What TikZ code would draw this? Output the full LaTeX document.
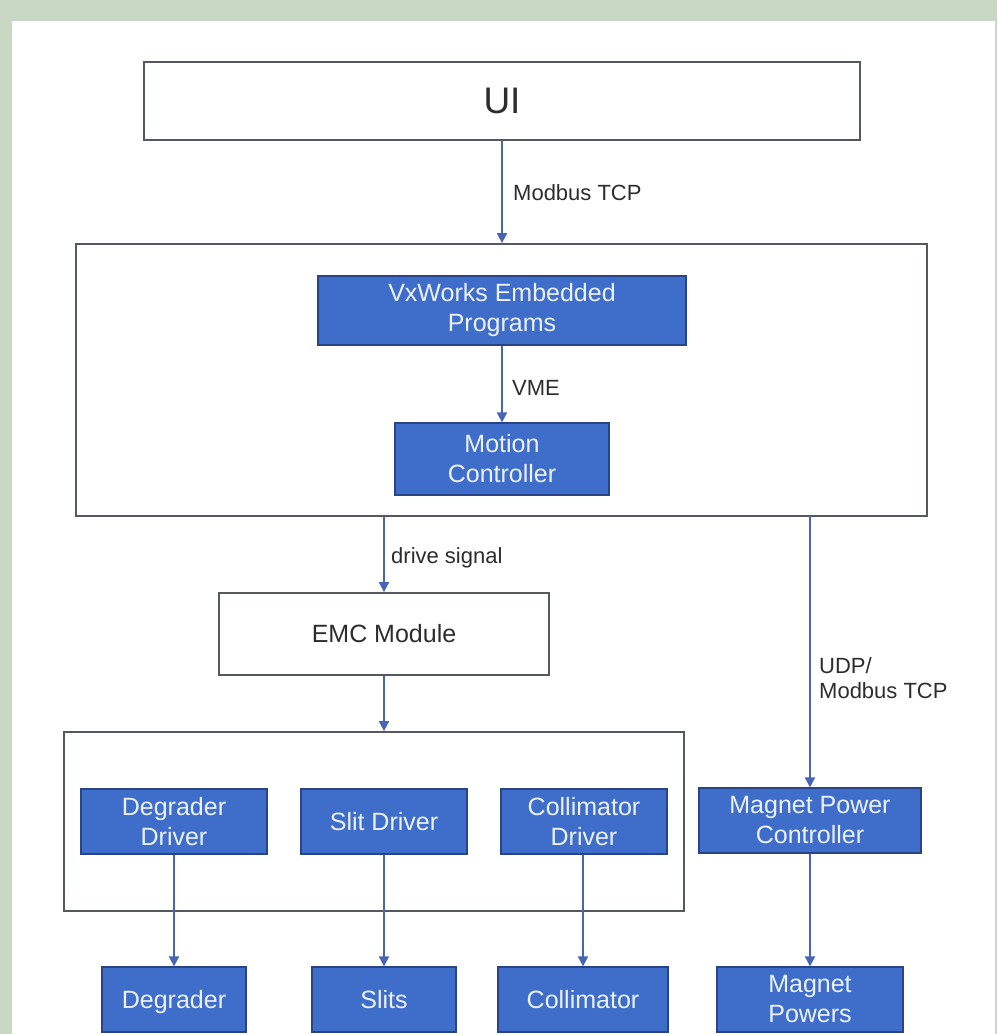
\documentclass[tikz,border=0pt]{standalone}
\usepackage{fontspec}
\setmainfont{Liberation Sans}
\usetikzlibrary{arrows.meta}
\definecolor{bg}{RGB}{200,216,196}
\definecolor{bluefill}{RGB}{62,109,202}
\definecolor{blueedge}{RGB}{40,68,135}
\definecolor{bluetext}{RGB}{236,241,252}
\definecolor{arrowc}{RGB}{72,100,180}
\definecolor{edgegray}{RGB}{85,88,95}
\definecolor{lblc}{RGB}{45,45,45}
\tikzset{
  bluebox/.style={draw=blueedge, line width=1.2pt, fill=bluefill, text=bluetext,
    font=\fontsize{25}{30}\selectfont, align=center, inner sep=0pt},
  oneline/.style={text height=18pt, text depth=0pt},
  whitebox/.style={draw=edgegray, line width=1.8pt, fill=white, inner sep=0pt, text=lblc},
  conn/.style={draw=arrowc, line width=1.8pt, -{Triangle[length=10pt,width=10pt]}},
  lbl/.style={text=lblc, font=\fontsize{22}{25}\selectfont, anchor=west, inner sep=0pt, align=left},
}
\begin{document}
\begin{tikzpicture}[x=1pt,y=-1pt]
% background
\fill[bg] (0,0) rectangle (997,1034);
\fill[white] (12,21) rectangle (995,1034);
\useasboundingbox (0,0) rectangle (997,1034);

% top UI
\node[whitebox, minimum width=716pt, minimum height=78pt, font=\fontsize{37}{40}\selectfont] (ui) at (502,101) {UI};

% container 1
\node[whitebox, minimum width=851pt, minimum height=272pt] (c1) at (501.5,380) {};
\node[bluebox, minimum width=368pt, minimum height=69pt] (vx) at (502,310.5) {VxWorks Embedded\\Programs};
\node[bluebox, minimum width=214pt, minimum height=72pt] (mc) at (502,459) {Motion\\Controller};

% EMC
\node[whitebox, minimum width=330pt, minimum height=82pt, font=\fontsize{25}{30}\selectfont] (emc) at (384,634) {EMC Module};

% container 2
\node[whitebox, minimum width=620pt, minimum height=179pt] (c2) at (374,821.5) {};
\node[bluebox, minimum width=186pt, minimum height=65pt] (dd) at (174,821.5) {Degrader\\Driver};
\node[bluebox, oneline, minimum width=166pt, minimum height=65pt] (sd) at (384,821.5) {Slit Driver};
\node[bluebox, minimum width=166pt, minimum height=65pt] (cd) at (584,821.5) {Collimator\\Driver};
\node[bluebox, minimum width=222pt, minimum height=65pt] (mpc) at (810,820.5) {Magnet Power\\Controller};

% bottom row
\node[bluebox, oneline, minimum width=144pt, minimum height=65pt] (deg) at (174,999.5) {Degrader};
\node[bluebox, oneline, minimum width=144pt, minimum height=65pt] (sl) at (384,999.5) {Slits};
\node[bluebox, oneline, minimum width=170pt, minimum height=65pt] (col) at (583,999.5) {Collimator};
\node[bluebox, minimum width=186pt, minimum height=65pt] (mp) at (810,999.5) {Magnet\\Powers};

% connectors
\draw[conn] (ui.south) -- (ui.south |- c1.north);
\draw[conn] (vx.south) -- (mc.north);
\coordinate (c1e) at (emc.north |- c1.south);
\draw[conn] (c1e) -- (emc.north);
\draw[conn] (emc.south) -- (emc.south |- c2.north);
\coordinate (c1m) at (810,516);
\draw[conn] (c1m) -- (mpc.north);
\draw[conn] (dd.south) -- (deg.north);
\draw[conn] (sd.south) -- (sl.north);
\draw[conn] (cd.south -| col.north) -- (col.north);
\draw[conn] (mpc.south) -- (mp.north);

% labels
\node[lbl] (lmod) at (513,193) {Modbus TCP};
\node[lbl] (lvme) at (512,388) {VME};
\node[lbl] (ldrv) at (391,558) {drive signal};
\node[lbl] (ludp) at (819,678) {UDP/\\Modbus TCP};
\end{tikzpicture}
\end{document}
